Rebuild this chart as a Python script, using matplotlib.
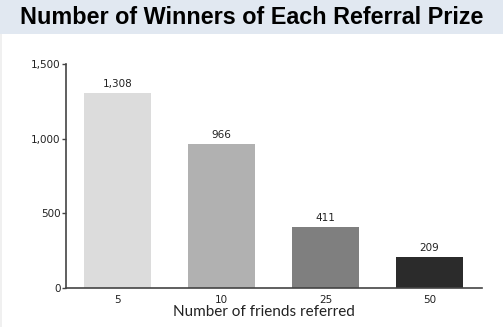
import matplotlib.pyplot as plt
from matplotlib.patches import Rectangle

categories = ["5", "10", "25", "50"]
winners = [1308, 966, 411, 209]
bar_colors = ["#dcdcdc", "#b1b1b1", "#7f7f7f", "#2b2b2b"]

fig = plt.figure(figsize=(5.03, 3.27), dpi=100)

# header band + faint left border
fig.patches.append(Rectangle((0, 1 - 34 / 327), 1, 34 / 327, transform=fig.transFigure,
                             facecolor="#e1e8f1", edgecolor="none", zorder=0))
fig.patches.append(Rectangle((0, 0), 2 / 503, 1 - 34 / 327, transform=fig.transFigure,
                             facecolor="#f0f0f0", edgecolor="none", zorder=0))
fig.text(0.5, 1 - 18 / 327, "Number of Winners of Each Referral Prize",
         ha="center", va="center", fontsize=16.8, fontweight="bold",
         family="Liberation Sans", color="#000000")

ax = fig.add_axes([66 / 503, 1 - 288 / 327, 416 / 503, 224 / 327])
x = range(len(categories))
ax.bar(x, winners, width=0.645, color=bar_colors)
for xi, v in zip(x, winners):
    ax.text(xi, v + 25, f"{v:,}", ha="center", va="bottom", fontsize=7.5, color="#222222")

ax.set_xlim(-0.495, 3.505)
ax.set_ylim(0, 1500)
ax.set_yticks([0, 500, 1000, 1500])
ax.set_yticklabels([f"{t:,}" for t in [0, 500, 1000, 1500]])
ax.set_xticks(list(x))
ax.set_xticklabels(categories)
ax.tick_params(axis="y", length=3, width=1, color="#444444", labelsize=7.5, pad=1, labelcolor="#222222")
ax.tick_params(axis="x", length=0, labelsize=7.5, pad=5, labelcolor="#222222")
for s in ["top", "right"]:
    ax.spines[s].set_visible(False)
for s in ["left", "bottom"]:
    ax.spines[s].set_color("#444444")
    ax.spines[s].set_linewidth(1.2)

ax.set_xlabel("Number of friends referred", fontsize=11, family="Lato", color="#222222")
ax.xaxis.set_label_coords(0.476, -0.077)

fig.savefig("out.png", dpi=100)
